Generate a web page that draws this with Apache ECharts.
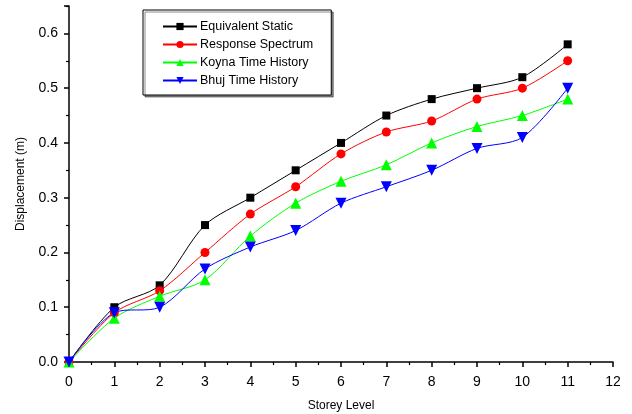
<!DOCTYPE html>
<html>
<head>
<meta charset="utf-8">
<script src="https://cdn.jsdelivr.net/npm/echarts@6/dist/echarts.min.js"></script>
<style>
  html, body { margin: 0; padding: 0; background: #fff; }
  #chart { width: 632px; height: 414px; }
</style>
</head>
<body>
<div id="chart"></div>
<script>
// storey levels on x
const storeys = [0, 1, 2, 3, 4, 5, 6, 7, 8, 9, 10, 11];
const seriesNames = ['Equivalent Static', 'Response Spectrum', 'Koyna Time History', 'Bhuj Time History'];
const equivalentStatic = [0, 0.10, 0.14, 0.25, 0.30, 0.35, 0.40, 0.45, 0.48, 0.50, 0.52, 0.58];
const responseSpectrum = [0, 0.09, 0.13, 0.20, 0.27, 0.32, 0.38, 0.42, 0.44, 0.48, 0.50, 0.55];
const koynaHistory = [0, 0.08, 0.12, 0.15, 0.23, 0.29, 0.33, 0.36, 0.40, 0.43, 0.45, 0.48];
const bhujHistory = [0, 0.09, 0.10, 0.17, 0.21, 0.24, 0.29, 0.32, 0.35, 0.39, 0.41, 0.50];

const chart = echarts.init(document.getElementById('chart'));

function pairs(vals) {
  return storeys.map((s, i) => [s, vals[i]]);
}

function mkSeries(name, vals, color, symbol, size, rotate) {
  return {
    name: name,
    type: 'line',
    data: pairs(vals),
    smooth: 0.3,
    symbol: symbol,
    symbolSize: size,
    symbolRotate: rotate || 0,
    showAllSymbol: true,
    lineStyle: { color: color, width: 1 },
    itemStyle: { color: color },
    emphasis: { disabled: true },
    animation: false
  };
}

const font = 'Liberation Sans, Arial, sans-serif';

const axisCommon = {
  axisLine: { show: true, lineStyle: { color: '#000', width: 1.5 } },
  axisTick: { show: true, inside: false, length: 5, lineStyle: { color: '#000', width: 1.5 } },
  minorTick: { show: true, splitNumber: 2, length: 3, lineStyle: { color: '#000', width: 1.2 } },
  splitLine: { show: false },
  axisLabel: { color: '#000', fontSize: 14, fontFamily: font },
  nameTextStyle: { color: '#000', fontSize: 12, fontFamily: font },
  nameLocation: 'middle'
};

const option = {
  backgroundColor: '#fff',
  animation: false,
  grid: { left: 69, right: 19, top: 6, bottom: 52, outerBoundsMode: 'none' },
  legend: {
    orient: 'vertical',
    left: 143,
    top: 10,
    padding: [10, 18, 8, 19],
    itemWidth: 34,
    itemHeight: 9,
    itemGap: 5,
    data: seriesNames,
    backgroundColor: '#fff',
    borderColor: '#000',
    borderWidth: 1,
    borderRadius: 0,
    shadowColor: 'rgba(0,0,0,0.45)',
    shadowBlur: 0,
    shadowOffsetX: 2,
    shadowOffsetY: 2,
    textStyle: { color: '#000', fontSize: 12.5, fontFamily: font, padding: [0, 0, 0, -2] }
  },
  xAxis: Object.assign({}, axisCommon, {
    type: 'value',
    name: 'Storey Level',
    nameGap: 38,
    min: 0,
    max: 12,
    interval: 1,
    axisLabel: Object.assign({}, axisCommon.axisLabel, { margin: 13 })
  }),
  yAxis: Object.assign({}, axisCommon, {
    type: 'value',
    name: 'Displacement (m)',
    nameGap: 42,
    min: 0,
    max: 0.65,
    interval: 0.1,
    axisLabel: Object.assign({}, axisCommon.axisLabel, {
      margin: 11,
      showMaxLabel: false,
      formatter: v => v.toFixed(1)
    })
  }),
  series: [
    mkSeries(seriesNames[0], equivalentStatic, '#000000', 'rect', 8),
    mkSeries(seriesNames[1], responseSpectrum, '#ff0000', 'circle', 9),
    mkSeries(seriesNames[2], koynaHistory, '#00ff00', 'triangle', 11),
    mkSeries(seriesNames[3], bhujHistory, '#0000ff', 'triangle', 11, 180)
  ]
};

chart.setOption(option);
</script>
</body>
</html>
